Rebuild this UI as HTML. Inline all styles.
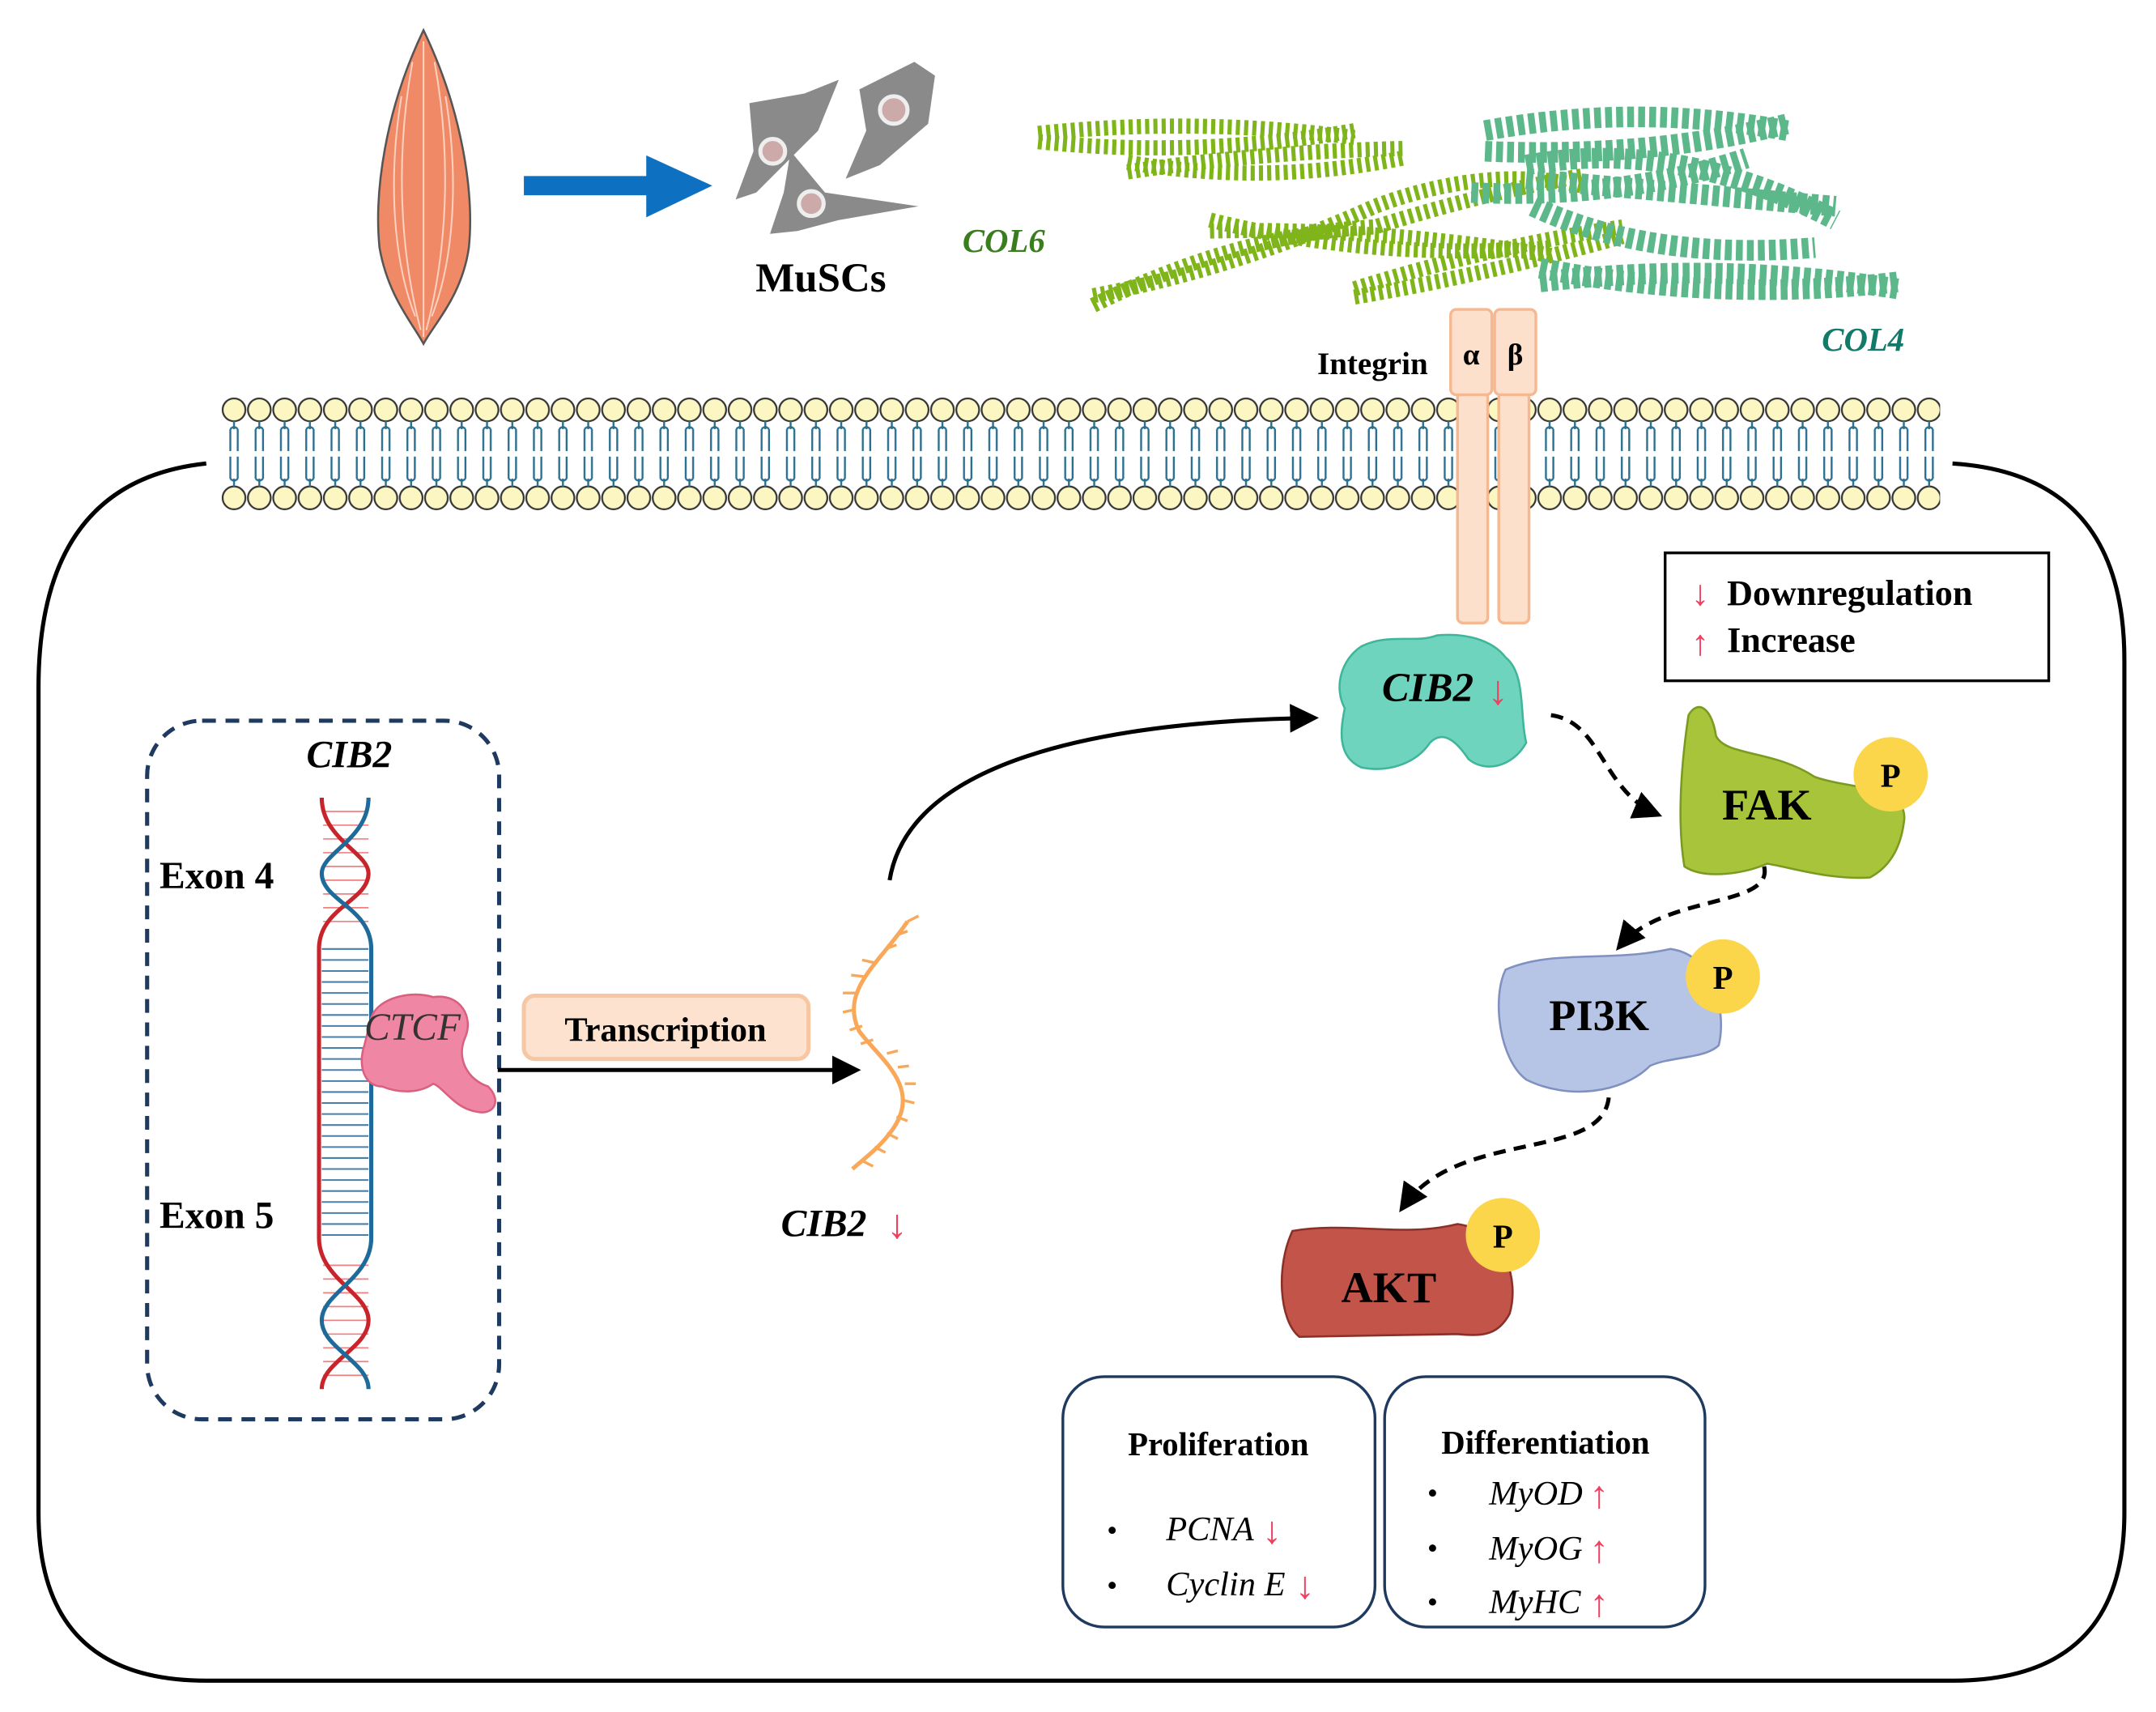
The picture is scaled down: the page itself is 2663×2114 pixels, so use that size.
<!DOCTYPE html>
<html><head><meta charset="utf-8"><style>
html,body{margin:0;padding:0;background:#fff;}
svg{display:block;}
text{font-family:"Liberation Serif",serif;}
</style></head><body>
<svg width="2663" height="2114" viewBox="0 0 1568 1244.8" preserveAspectRatio="none" xmlns="http://www.w3.org/2000/svg">
<defs>
<pattern id="lip" x="161" y="0" width="18.4" height="1238.4" patternUnits="userSpaceOnUse">
 <circle cx="9.2" cy="298" r="8.3" fill="#fbf6c2" stroke="#333" stroke-width="1.3"/>
 <circle cx="9.2" cy="362" r="8.3" fill="#fbf6c2" stroke="#333" stroke-width="1.3"/>
 <path d="M9.2 306 V312 M6.5 312 V328 M11.9 312 V328 M6.5 312 Q9.2 309 11.9 312" stroke="#2a6f8e" stroke-width="1.4" fill="none"/>
 <path d="M9.2 354 V348 M6.5 348 V332 M11.9 348 V332 M6.5 348 Q9.2 351 11.9 348" stroke="#2a6f8e" stroke-width="1.4" fill="none"/>
</pattern>
<marker id="ah" viewBox="0 0 10 10" refX="8" refY="5" markerWidth="7" markerHeight="7" orient="auto"><path d="M0 0 L10 5 L0 10 z" fill="#000"/></marker>
</defs>

<path d="M150 337 Q28 350 28 500 L28 1100 Q28 1222 150 1222 L1420 1222 Q1545 1222 1545 1100 L1545 480 Q1545 345 1420 337" fill="none" stroke="#000" stroke-width="3"/>

<rect x="161" y="286" width="1250" height="88" fill="url(#lip)"/>

<path d="M308 22 C280 80 272 140 276 180 C282 215 300 235 308 250 C316 235 336 215 341 180 C345 140 336 80 308 22 Z" fill="#f08a66" stroke="#555" stroke-width="1.5"/>
<path d="M300 45 C288 110 290 180 306 240 M316 45 C328 110 326 180 310 240 M292 70 C282 130 286 190 302 230 M324 70 C334 130 330 190 314 230 M308 30 V245" stroke="#fbd0bf" stroke-width="1.2" fill="none"/>

<path d="M381 128 H470 V113 L518 135 L470 158 V142 H381 Z" fill="#0e70c0"/>

<path d="M545 75 L585 68 L610 58 L595 95 L580 110 L550 140 L535 145 L548 110 Z" fill="#8a8a8a"/>
<circle cx="562" cy="110" r="9" fill="#caa" stroke="#eee" stroke-width="3"/>
<path d="M625 65 L665 45 L680 55 L675 90 L640 120 L615 130 L630 95 Z" fill="#8a8a8a"/>
<circle cx="650" cy="80" r="10" fill="#caa" stroke="#eee" stroke-width="3"/>
<path d="M575 110 L600 140 L668 150 L610 160 L580 168 L560 170 L570 140 Z" fill="#8a8a8a"/>
<circle cx="590" cy="148" r="9" fill="#caa" stroke="#eee" stroke-width="3"/>
<text x="597" y="212" font-size="30" font-weight="bold" text-anchor="middle">MuSCs</text>

<g fill="none" stroke="#7fb51a" stroke-width="11" stroke-dasharray="3 3">
<path d="M755 97 Q870 85 985 100"/>
<path d="M755 103 Q870 115 985 95"/>
<path d="M820 125 Q920 110 1020 108"/>
<path d="M820 118 Q920 135 1020 115"/>
<path d="M795 215 Q900 195 1000 150 Q1080 120 1150 135"/>
<path d="M795 222 Q900 170 1000 165 Q1080 140 1150 128"/>
<path d="M880 160 Q1000 190 1130 180"/>
<path d="M880 168 Q1000 165 1130 186"/>
<path d="M985 210 Q1080 180 1180 165"/>
<path d="M985 216 Q1080 200 1180 172"/>
</g>
<text x="700" y="183" font-size="24" font-weight="bold" font-style="italic" fill="#3a7d1e">COL6</text>

<g fill="none" stroke="#5cb88a" stroke-width="15" stroke-dasharray="5 3">
<path d="M1080 95 Q1190 75 1300 95"/>
<path d="M1080 110 Q1200 115 1300 90"/>
<path d="M1110 130 Q1220 140 1335 150"/>
<path d="M1110 120 Q1220 100 1335 160"/>
<path d="M1070 140 Q1180 145 1270 115"/>
<path d="M1120 205 Q1250 190 1380 210"/>
<path d="M1120 195 Q1250 220 1380 205"/>
<path d="M1115 150 Q1200 190 1320 180"/>
</g>
<text x="1325" y="255" font-size="24" font-weight="bold" font-style="italic" fill="#137a6a">COL4</text>

<text x="958" y="272" font-size="23" font-weight="bold">Integrin</text>
<g fill="#fde0cb" stroke="#f5b890" stroke-width="2">
<rect x="1060" y="285" width="22" height="168" rx="4"/>
<rect x="1090" y="285" width="22" height="168" rx="4"/>
<rect x="1055" y="225" width="30" height="62" rx="4"/>
<rect x="1087" y="225" width="30" height="62" rx="4"/>
</g>
<text x="1070" y="265" font-size="22" font-weight="bold" text-anchor="middle">α</text>
<text x="1102" y="265" font-size="22" font-weight="bold" text-anchor="middle">β</text>

<rect x="1211" y="402" width="279" height="93" fill="#fff" stroke="#000" stroke-width="2"/>
<text x="1230" y="440" font-size="26" fill="#f04060">↓</text>
<text x="1256" y="440" font-size="26" font-weight="bold">Downregulation</text>
<text x="1230" y="476" font-size="26" fill="#f04060">↑</text>
<text x="1256" y="474" font-size="26" font-weight="bold">Increase</text>

<rect x="107" y="524" width="256" height="508" rx="40" fill="none" stroke="#1f3a5f" stroke-width="3" stroke-dasharray="10 7"/>
<text x="254" y="558" font-size="28" font-weight="bold" font-style="italic" text-anchor="middle">CIB2</text>
<text x="116" y="646" font-size="28" font-weight="bold">Exon 4</text>
<text x="116" y="893" font-size="28" font-weight="bold">Exon 5</text>
<g stroke="#f08080" stroke-width="1">
<path d="M235 590 H268 M235 600 H268 M235 610 H268 M235 620 H268 M235 630 H268 M235 640 H268 M235 650 H268 M235 660 H268 M235 670 H268"/>
<path d="M235 920 H268 M235 930 H268 M235 940 H268 M235 950 H268 M235 960 H268 M235 970 H268 M235 980 H268 M235 990 H268 M235 1000 H268"/>
</g>
<g stroke="#4a7fa8" stroke-width="1.2">
<path d="M234 690 H268 M234 698 H268 M234 706 H268 M234 714 H268 M234 722 H268 M234 730 H268 M234 738 H268 M234 746 H268 M234 754 H268 M234 762 H268 M234 770 H268 M234 778 H268 M234 786 H268 M234 794 H268 M234 802 H268 M234 810 H268 M234 818 H268 M234 826 H268 M234 834 H268 M234 842 H268 M234 850 H268 M234 858 H268 M234 866 H268 M234 874 H268 M234 882 H268 M234 890 H268 M234 898 H268"/>
</g>
<path d="M234 580 C234 610 268 620 268 635 C268 655 232 660 232 690 V900 C232 930 268 940 268 960 C268 980 234 990 234 1010" fill="none" stroke="#c8242c" stroke-width="3"/>
<path d="M268 580 C268 610 234 620 234 635 C234 655 270 660 270 690 V900 C270 930 234 940 234 960 C234 980 268 990 268 1010" fill="none" stroke="#1e6a9a" stroke-width="3"/>
<path d="M270 740 C275 725 300 720 315 725 C335 722 345 740 338 755 C332 770 340 785 355 790 C365 800 360 812 345 808 C330 805 322 790 315 788 C305 795 290 795 278 790 C265 790 260 775 265 760 Z" fill="#ef86a4" stroke="#d9607e" stroke-width="1.5"/>
<text x="300" y="756" font-size="28" font-style="italic" text-anchor="middle" fill="#333">CTCF</text>

<line x1="362" y1="778" x2="622" y2="778" stroke="#000" stroke-width="3" marker-end="url(#ah)"/>
<rect x="381" y="724" width="207" height="46" rx="8" fill="#fde3cf" stroke="#f7c7a3" stroke-width="3"/>
<text x="484" y="757" font-size="25" font-weight="bold" text-anchor="middle">Transcription</text>
<path d="M660 670 C640 700 610 720 625 750 C640 770 670 790 650 820 C640 835 625 845 620 850" fill="none" stroke="#f9a85a" stroke-width="3"/>
<path d="M660 670 l8 -4 M652 680 l8 -3 M644 690 l8 -3 M636 700 l-9 -2 M628 710 l-9 -1 M622 722 l-9 0 M622 734 l-9 2 M627 746 l-9 3 M635 756 l-9 3 M645 766 l8 -2 M653 776 l8 -1 M658 788 l8 0 M657 800 l8 2 M652 812 l8 3 M645 824 l8 4 M636 834 l8 4 M627 844 l8 4" stroke="#f9a85a" stroke-width="2"/>
<text x="568" y="899" font-size="28" font-weight="bold" font-style="italic">CIB2</text>
<text x="645" y="900" font-size="30" fill="#f04060">↓</text>

<path d="M647 640 C660 560 780 525 955 522" fill="none" stroke="#000" stroke-width="3" marker-end="url(#ah)"/>

<path d="M990 470 C1010 460 1030 468 1045 462 C1065 460 1085 465 1095 478 C1110 490 1105 520 1110 540 C1100 558 1080 562 1068 552 C1060 540 1050 530 1040 540 C1030 555 1010 562 990 558 C972 550 975 530 978 515 C970 500 975 480 990 470 Z" fill="#6ed4bd" stroke="#3fb59a" stroke-width="1.5"/>
<text x="1005" y="510" font-size="30" font-weight="bold" font-style="italic">CIB2</text>
<text x="1082" y="512" font-size="30" fill="#f04060">↓</text>

<path d="M1128 520 C1165 525 1165 575 1205 592" fill="none" stroke="#000" stroke-width="3" stroke-dasharray="9 6" marker-end="url(#ah)"/>
<path d="M1283 630 C1290 660 1210 650 1178 688" fill="none" stroke="#000" stroke-width="3" stroke-dasharray="9 6" marker-end="url(#ah)"/>
<path d="M1170 798 C1165 845 1060 820 1020 878" fill="none" stroke="#000" stroke-width="3" stroke-dasharray="9 6" marker-end="url(#ah)"/>

<path d="M1228 520 C1235 508 1245 515 1248 535 C1255 550 1290 545 1320 565 C1350 575 1385 570 1385 595 C1383 615 1375 630 1360 638 C1330 640 1300 630 1285 628 C1270 635 1240 640 1225 630 C1220 600 1222 560 1228 520 Z" fill="#a8c43a" stroke="#7a9a20" stroke-width="1.5"/>
<text x="1285" y="596" font-size="32" font-weight="bold" text-anchor="middle">FAK</text>
<circle cx="1375" cy="563" r="27" fill="#fbd54a"/>
<text x="1375" y="572" font-size="24" font-weight="bold" text-anchor="middle">P</text>

<path d="M1095 705 C1130 690 1170 700 1215 690 C1250 695 1255 740 1250 760 C1240 770 1215 768 1200 775 C1180 795 1140 800 1110 785 C1090 770 1085 725 1095 705 Z" fill="#b6c4e6" stroke="#8090c0" stroke-width="1.5"/>
<text x="1163" y="749" font-size="32" font-weight="bold" text-anchor="middle">PI3K</text>
<circle cx="1253" cy="710" r="27" fill="#fbd54a"/>
<text x="1253" y="719" font-size="24" font-weight="bold" text-anchor="middle">P</text>

<path d="M940 895 C980 888 1020 900 1060 890 C1095 895 1105 930 1098 955 C1090 970 1080 972 1060 970 L945 972 C930 960 928 920 940 895 Z" fill="#c2544a" stroke="#8a3028" stroke-width="1.5"/>
<text x="1010" y="947" font-size="32" font-weight="bold" text-anchor="middle">AKT</text>
<circle cx="1093" cy="898" r="27" fill="#fbd54a"/>
<text x="1093" y="907" font-size="24" font-weight="bold" text-anchor="middle">P</text>

<rect x="773" y="1001" width="227" height="182" rx="30" fill="#fff" stroke="#1f3a5f" stroke-width="2"/>
<rect x="1007" y="1001" width="233" height="182" rx="30" fill="#fff" stroke="#1f3a5f" stroke-width="2"/>
<text x="886" y="1058" font-size="24" font-weight="bold" text-anchor="middle">Proliferation</text>
<text x="805" y="1120" font-size="22">•</text>
<text x="848" y="1120" font-size="25" font-style="italic">PCNA</text>
<text x="918" y="1122" font-size="28" fill="#f04060">↓</text>
<text x="805" y="1160" font-size="22">•</text>
<text x="848" y="1160" font-size="25" font-style="italic">Cyclin E</text>
<text x="942" y="1162" font-size="28" fill="#f04060">↓</text>
<text x="1124" y="1057" font-size="24" font-weight="bold" text-anchor="middle">Differentiation</text>
<text x="1038" y="1093" font-size="22">•</text>
<text x="1083" y="1094" font-size="25" font-style="italic">MyOD</text>
<text x="1156" y="1096" font-size="28" fill="#f04060">↑</text>
<text x="1038" y="1133" font-size="22">•</text>
<text x="1083" y="1134" font-size="25" font-style="italic">MyOG</text>
<text x="1156" y="1136" font-size="28" fill="#f04060">↑</text>
<text x="1038" y="1172" font-size="22">•</text>
<text x="1083" y="1173" font-size="25" font-style="italic">MyHC</text>
<text x="1156" y="1175" font-size="28" fill="#f04060">↑</text>
</svg>
</body></html>
